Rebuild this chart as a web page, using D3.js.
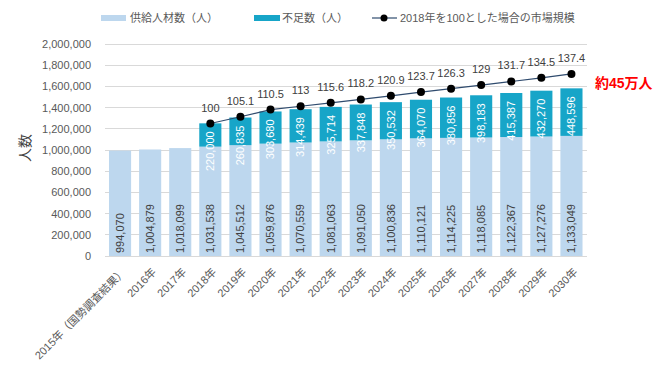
<!DOCTYPE html>
<html><head><meta charset="utf-8">
<script src="https://cdn.jsdelivr.net/npm/d3@7"></script>
<style>
body{margin:0;background:#fff;}
text{font-family:"Liberation Sans","Noto Sans CJK JP",sans-serif;}
</style></head>
<body><svg id="c" width="665" height="367"></svg>
<script>
const categories = ["2015年（国勢調査結果）","2016年","2017年","2018年","2019年","2020年","2021年","2022年","2023年","2024年","2025年","2026年","2027年","2028年","2029年","2030年"];
const supply = [994070,1004879,1018099,1031538,1045512,1059876,1070559,1081063,1091050,1100836,1110121,1114225,1118085,1122367,1127276,1133049];
const shortage = [null,null,null,220000,260835,303680,314439,325714,337848,350532,364070,380856,398183,415387,432270,448596];
const marketIndex = [null,null,null,100,105.1,110.5,113,115.6,118.2,120.9,123.7,126.3,129,131.7,134.5,137.4];
const yTicks = [0,200000,400000,600000,800000,1000000,1200000,1400000,1600000,1800000,2000000];
const legendLabels = ["供給人材数（人）","不足数（人）","2018年を100とした場合の市場規模"];
const yTitle = "人数";
const callout = "約45万人";

const svg = d3.select("#c");
const x = d3.scaleBand().domain(categories).range([105,586.5]).paddingInner(0.265).paddingOuter(0.1325);
const y = d3.scaleLinear().domain([0,2000000]).range([256,44]);
const y2 = d3.scaleLinear().domain([0,160]).range([256,44]);
const fmt = d3.format(",");
const cLight="#BDD7EE", cDark="#17A5C8", cText="#595959";

// gridlines
svg.append("g").selectAll("line").data(yTicks).join("line")
  .attr("x1",105).attr("x2",586.5).attr("y1",d=>y(d)).attr("y2",d=>y(d))
  .attr("stroke","#D9D9D9").attr("stroke-width",1).attr("shape-rendering","crispEdges");

// y axis labels
const yAxis = svg.append("g").attr("transform","translate(91,0)")
  .call(d3.axisLeft(y).tickValues(yTicks).tickFormat(fmt).tickSize(0).tickPadding(0));
yAxis.select(".domain").remove();
yAxis.selectAll("text").attr("fill",cText).attr("font-size",11);

svg.append("text").attr("transform","translate(30,148) rotate(-90)")
  .attr("text-anchor","middle").attr("font-size",14).attr("fill","#404040").text(yTitle);

// bars
const data = categories.map((c,i)=>({c,s:supply[i],d:shortage[i],m:marketIndex[i]}));
svg.append("g").selectAll("rect").data(data).join("rect")
  .attr("x",d=>x(d.c)).attr("width",x.bandwidth())
  .attr("y",d=>y(d.s)).attr("height",d=>y(0)-y(d.s)).attr("fill",cLight);
const sd = data.filter(d=>d.d!=null);
svg.append("g").selectAll("rect").data(sd).join("rect")
  .attr("x",d=>x(d.c)).attr("width",x.bandwidth())
  .attr("y",d=>y(d.s+d.d)).attr("height",d=>y(d.s)-y(d.s+d.d)).attr("fill",cDark);

// supply labels
svg.append("g").selectAll("text").data(data).join("text")
  .attr("transform",d=>`translate(${x(d.c)+x.bandwidth()/2},${y(0)-3}) rotate(-90)`)
  .attr("dy","0.35em").attr("font-size",11).attr("fill","#404040").text(d=>fmt(d.s));
// shortage labels
svg.append("g").selectAll("text").data(sd).join("text")
  .attr("transform",d=>`translate(${x(d.c)+x.bandwidth()/2},${y(d.s+d.d)+8}) rotate(-90)`)
  .attr("text-anchor","end").attr("dy","0.35em").attr("font-size",11).attr("fill","#fff").text(d=>fmt(d.d));

// line
const line = d3.line().x(d=>x(d.c)+x.bandwidth()/2).y(d=>y2(d.m));
svg.append("path").datum(sd).attr("d",line).attr("fill","none").attr("stroke","#2F4B6E").attr("stroke-width",1.2);
svg.append("g").selectAll("circle").data(sd).join("circle")
  .attr("cx",d=>x(d.c)+x.bandwidth()/2).attr("cy",d=>y2(d.m)).attr("r",4).attr("fill","#000");
svg.append("g").selectAll("text").data(sd).join("text")
  .attr("x",d=>x(d.c)+x.bandwidth()/2).attr("y",d=>y2(d.m)-12)
  .attr("text-anchor","middle").attr("font-size",11).attr("fill","#404040").text(d=>d.m);

// callout
svg.append("text").attr("x",595).attr("y",88).attr("font-size",14).attr("font-weight","bold")
  .attr("fill","#FF0000").text(callout);

// x labels
svg.append("g").selectAll("text").data(categories).join("text")
  .attr("transform",d=>`translate(${x(d)+x.bandwidth()/2+4},${270}) rotate(-45)`)
  .attr("text-anchor","end").attr("dy","0.35em").attr("font-size",11).attr("fill",cText).text(d=>d);

// legend
const lg = svg.append("g");
lg.append("rect").attr("x",101).attr("y",15).attr("width",25).attr("height",6).attr("fill",cLight);
lg.append("text").attr("x",130).attr("y",18).attr("dy","0.35em").attr("font-size",11).attr("fill",cText).text(legendLabels[0]);
lg.append("rect").attr("x",254).attr("y",15).attr("width",26).attr("height",6).attr("fill",cDark);
lg.append("text").attr("x",282).attr("y",18).attr("dy","0.35em").attr("font-size",11).attr("fill",cText).text(legendLabels[1]);
lg.append("line").attr("x1",372).attr("x2",397).attr("y1",18).attr("y2",18).attr("stroke","#2F4B6E").attr("stroke-width",1.2);
lg.append("circle").attr("cx",384).attr("cy",18).attr("r",3.5).attr("fill","#000");
lg.append("text").attr("x",400).attr("y",18).attr("dy","0.35em").attr("font-size",11).attr("fill",cText).text(legendLabels[2]);
</script></body></html>
